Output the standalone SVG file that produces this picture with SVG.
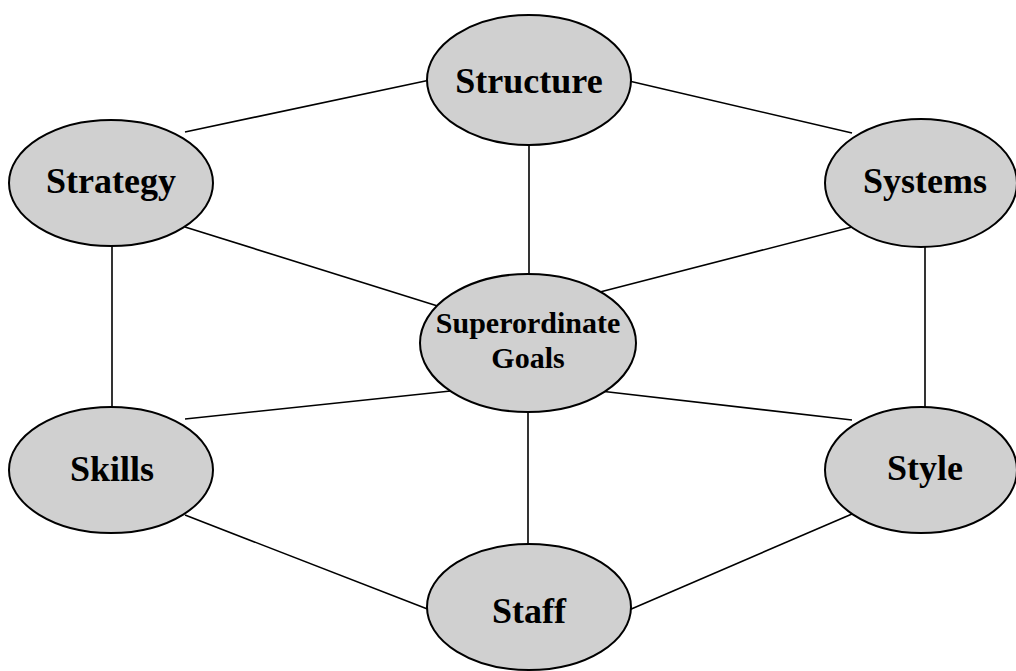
<svg xmlns="http://www.w3.org/2000/svg" width="1016" height="671" viewBox="0 0 1016 671">
  <style>
    .edge { stroke: #000; stroke-width: 1.6; fill: none; }
    .node ellipse { fill: #d0d0d0; stroke: #000; stroke-width: 2; }
    .node text { font-family: "Liberation Serif", "Times New Roman", serif; font-weight: bold; fill: #000; text-anchor: middle; }
    .big { font-size: 36px; }
    .small { font-size: 30px; }
  </style>
  <rect width="1016" height="671" fill="#fff"/>

  <g id="connectors">
    <line class="edge" x1="185" y1="132" x2="430" y2="80"/>
    <line class="edge" x1="629" y1="81" x2="852" y2="133"/>
    <line class="edge" x1="185" y1="227" x2="460" y2="313"/>
    <line class="edge" x1="852" y1="227" x2="600" y2="292"/>
    <line class="edge" x1="529" y1="140" x2="529" y2="280"/>
    <line class="edge" x1="112" y1="240" x2="112" y2="412"/>
    <line class="edge" x1="925" y1="240" x2="925" y2="412"/>
    <line class="edge" x1="460" y1="390" x2="185" y2="419"/>
    <line class="edge" x1="600" y1="391" x2="852" y2="420"/>
    <line class="edge" x1="528" y1="405" x2="528" y2="550"/>
    <line class="edge" x1="185" y1="515" x2="430" y2="610"/>
    <line class="edge" x1="852" y1="514" x2="629" y2="610"/>
  </g>

  <g id="structure" class="node">
    <ellipse cx="529" cy="80" rx="102" ry="65"/>
    <text class="big" x="529" y="93">Structure</text>
  </g>
  <g id="strategy" class="node">
    <ellipse cx="111" cy="183" rx="102" ry="63"/>
    <text class="big" x="111" y="193">Strategy</text>
  </g>
  <g id="systems" class="node">
    <ellipse cx="921" cy="183" rx="96" ry="64"/>
    <text class="big" x="925" y="193">Systems</text>
  </g>
  <g id="superordinate-goals" class="node">
    <ellipse cx="528" cy="343" rx="108" ry="69"/>
    <text class="small" x="528" y="333">Superordinate</text>
    <text class="small" x="528" y="368">Goals</text>
  </g>
  <g id="skills" class="node">
    <ellipse cx="111" cy="470" rx="102" ry="63"/>
    <text class="big" x="112" y="481">Skills</text>
  </g>
  <g id="style" class="node">
    <ellipse cx="921" cy="470" rx="96" ry="63"/>
    <text class="big" x="925" y="480">Style</text>
  </g>
  <g id="staff" class="node">
    <ellipse cx="529" cy="607" rx="102" ry="63"/>
    <text class="big" x="529" y="623">Staff</text>
  </g>
</svg>
